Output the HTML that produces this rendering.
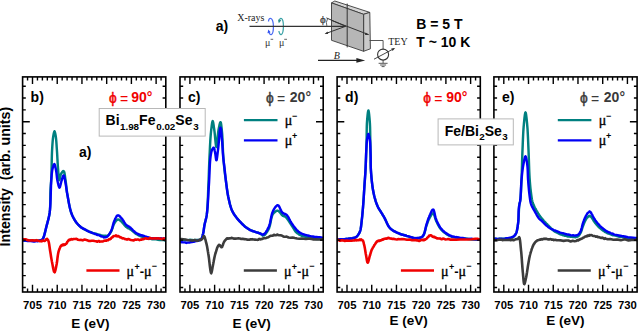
<!DOCTYPE html>
<html><head><meta charset="utf-8"><style>
html,body{margin:0;padding:0;background:#fff;width:638px;height:331px;overflow:hidden}
svg{display:block}
text{font-family:"Liberation Sans",sans-serif;fill:#000}
.tl{font-size:11.3px;font-weight:bold}
.xl{font-size:13.5px;font-weight:bold}
.pl{font-size:14px;font-weight:bold}
.phi{font-size:13.8px}
.eq{font-size:14px}
.mu{font-size:13px}
.sup{font-size:9px;font-weight:bold}
.mg{font-family:"Liberation Serif",serif;font-size:14px;stroke:#000;stroke-width:0.35}
.bx{font-size:14px;font-weight:bold}
.sub{font-size:9.8px}
.yl{font-size:14.2px;font-weight:bold}
.sr{font-family:"Liberation Serif",serif;fill:#222;font-size:10px}
</style></head><body>
<svg width="638" height="331" viewBox="0 0 638 331">
<clipPath id="cp0"><rect x="22.60" y="76.90" width="143.20" height="215.10"/></clipPath>
<clipPath id="cp1"><rect x="180.00" y="76.90" width="143.20" height="215.10"/></clipPath>
<clipPath id="cp2"><rect x="337.10" y="76.90" width="143.20" height="215.10"/></clipPath>
<clipPath id="cp3"><rect x="493.90" y="76.90" width="143.20" height="215.10"/></clipPath>
<g clip-path="url(#cp0)">
<path d="M22.60 240.50 L22.86 240.41 L23.56 240.35 L24.63 240.68 L25.97 240.41 L27.50 240.73 L29.13 240.69 L30.79 240.55 L32.37 240.84 L33.81 240.56 L35.00 240.76 L35.77 240.52 L36.54 240.50 L37.30 240.65 L38.05 240.82 L38.77 240.38 L39.45 240.37 L40.08 240.48 L40.66 240.50 L41.17 240.20 L41.60 239.96 L41.79 240.07 L41.95 239.68 L42.09 239.85 L42.22 239.59 L42.34 239.46 L42.45 239.36 L42.55 239.28 L42.66 239.23 L42.77 238.94 L42.90 238.81 L43.28 238.06 L43.67 237.01 L44.07 235.80 L44.48 234.35 L44.89 232.84 L45.29 231.25 L45.69 229.67 L46.07 228.05 L46.44 226.51 L46.80 225.11 L47.13 223.83 L47.46 222.58 L47.79 221.41 L48.11 220.19 L48.42 218.94 L48.72 217.74 L49.00 216.48 L49.26 215.20 L49.49 213.83 L49.70 212.39 L49.92 210.41 L50.07 208.22 L50.18 205.94 L50.25 203.58 L50.29 201.17 L50.32 198.77 L50.34 196.41 L50.37 194.14 L50.42 191.99 L50.50 190.00 L50.57 188.68 L50.65 187.44 L50.73 186.29 L50.82 185.18 L50.90 184.08 L50.99 182.98 L51.07 181.86 L51.15 180.67 L51.23 179.39 L51.30 178.00 L51.40 175.62 L51.48 173.00 L51.54 170.16 L51.61 167.18 L51.67 164.13 L51.73 161.07 L51.80 158.06 L51.88 155.17 L51.98 152.45 L52.10 150.00 L52.19 148.36 L52.29 146.76 L52.39 145.19 L52.49 143.68 L52.60 142.20 L52.71 140.79 L52.84 139.47 L52.98 138.24 L53.13 137.04 L53.30 136.00 L53.40 135.41 L53.52 134.81 L53.63 134.20 L53.75 133.61 L53.88 133.01 L54.00 132.52 L54.13 132.09 L54.25 131.84 L54.38 131.67 L54.50 131.29 L54.62 131.50 L54.75 131.74 L54.87 132.08 L55.00 132.53 L55.12 133.03 L55.25 133.56 L55.37 134.14 L55.48 134.78 L55.60 135.40 L55.70 136.00 L55.87 137.10 L56.02 138.28 L56.15 139.57 L56.27 140.95 L56.38 142.40 L56.49 143.88 L56.59 145.43 L56.69 146.97 L56.79 148.50 L56.90 150.01 L57.02 151.72 L57.13 153.51 L57.23 155.34 L57.33 157.21 L57.43 159.07 L57.54 160.93 L57.64 162.78 L57.75 164.58 L57.87 166.33 L58.00 167.99 L58.11 169.41 L58.22 170.97 L58.33 172.58 L58.44 174.20 L58.55 175.74 L58.68 177.18 L58.81 178.39 L58.96 179.32 L59.12 179.94 L59.30 180.14 L59.44 180.06 L59.57 179.69 L59.71 179.21 L59.85 178.53 L59.99 177.71 L60.16 176.88 L60.33 176.02 L60.53 175.23 L60.75 174.55 L61.00 173.97 L61.22 173.67 L61.47 173.14 L61.73 172.70 L62.01 172.48 L62.30 172.02 L62.58 171.60 L62.86 171.42 L63.13 171.06 L63.38 171.12 L63.60 171.27 L63.89 171.40 L64.15 171.84 L64.37 172.50 L64.56 173.39 L64.73 174.39 L64.89 175.53 L65.04 176.67 L65.19 177.84 L65.34 178.94 L65.50 179.98 L65.70 181.29 L65.87 182.61 L66.03 183.95 L66.17 185.33 L66.32 186.74 L66.47 188.18 L66.64 189.63 L66.83 191.14 L67.05 192.65 L67.30 194.17 L67.64 196.13 L68.00 198.23 L68.37 200.39 L68.77 202.63 L69.21 204.88 L69.68 207.06 L70.20 209.25 L70.78 211.33 L71.41 213.27 L72.10 214.98 L72.68 216.25 L73.29 217.50 L73.93 218.69 L74.60 219.84 L75.30 221.02 L76.03 222.14 L76.80 223.14 L77.60 224.02 L78.43 224.97 L79.30 225.87 L80.15 226.44 L81.05 227.29 L81.98 228.02 L82.95 228.59 L83.94 229.15 L84.94 229.59 L85.96 229.99 L86.98 230.69 L88.00 230.99 L89.00 231.61 L89.95 232.08 L90.92 232.26 L91.89 232.62 L92.87 233.17 L93.85 233.40 L94.84 233.47 L95.81 233.72 L96.79 233.98 L97.75 234.55 L98.70 234.74 L99.58 234.66 L100.47 235.19 L101.38 235.49 L102.29 235.58 L103.18 235.64 L104.05 235.90 L104.89 235.78 L105.69 235.73 L106.43 236.19 L107.10 235.86 L107.59 235.61 L108.04 235.48 L108.46 235.03 L108.85 234.79 L109.22 234.39 L109.57 233.84 L109.91 233.41 L110.24 232.95 L110.57 232.45 L110.90 232.01 L111.32 231.22 L111.70 230.40 L112.06 229.43 L112.39 228.53 L112.71 227.46 L113.03 226.46 L113.35 225.50 L113.70 224.62 L114.08 223.71 L114.50 223.07 L114.82 222.52 L115.16 222.05 L115.51 221.57 L115.86 221.01 L116.23 220.68 L116.60 220.25 L116.97 219.87 L117.35 219.85 L117.72 219.45 L118.10 219.49 L118.46 219.62 L118.82 219.64 L119.19 219.73 L119.56 220.03 L119.93 220.32 L120.31 220.70 L120.68 220.87 L121.06 221.33 L121.43 221.60 L121.80 221.94 L122.25 222.49 L122.70 222.91 L123.15 223.44 L123.60 224.03 L124.05 224.62 L124.49 225.08 L124.94 225.66 L125.39 226.14 L125.85 226.60 L126.30 227.05 L126.65 227.25 L127.00 227.50 L127.35 227.68 L127.70 228.01 L128.05 228.09 L128.40 228.32 L128.76 228.51 L129.13 228.46 L129.51 228.77 L129.90 229.13 L130.48 229.50 L131.08 229.77 L131.71 230.28 L132.35 230.91 L133.01 231.37 L133.67 231.97 L134.34 232.47 L135.00 233.15 L135.66 233.66 L136.30 234.12 L136.84 234.21 L137.36 234.68 L137.87 234.94 L138.39 235.02 L138.90 235.52 L139.43 235.78 L139.96 235.73 L140.52 236.23 L141.09 236.24 L141.70 236.50 L142.50 236.98 L143.32 237.20 L144.16 237.21 L145.04 237.59 L145.94 237.88 L146.86 238.06 L147.81 238.23 L148.78 238.51 L149.78 238.91 L150.80 238.77 L152.28 239.25 L154.03 239.40 L155.95 239.37 L157.95 239.70 L159.93 240.01 L161.77 240.07 L163.38 239.93 L164.65 240.51 L165.49 240.44 L165.80 240.30" fill="none" stroke="#008080" stroke-width="2.45" stroke-linejoin="round" stroke-linecap="round"/>
<path d="M22.60 240.50 L22.86 240.77 L23.56 240.40 L24.63 240.59 L25.97 240.60 L27.50 241.13 L29.14 240.99 L30.79 241.02 L32.38 241.26 L33.81 241.58 L35.00 241.48 L35.77 241.11 L36.54 240.98 L37.31 241.28 L38.05 241.00 L38.77 240.93 L39.45 240.51 L40.08 240.35 L40.66 240.45 L41.17 240.16 L41.60 239.85 L41.79 240.05 L41.95 239.86 L42.09 239.82 L42.22 239.52 L42.34 239.63 L42.45 239.33 L42.55 239.39 L42.66 239.16 L42.77 238.97 L42.90 238.81 L43.28 238.10 L43.67 237.00 L44.07 235.76 L44.48 234.40 L44.89 232.85 L45.29 231.25 L45.69 229.63 L46.07 228.02 L46.44 226.50 L46.80 225.08 L47.13 223.82 L47.46 222.66 L47.78 221.43 L48.09 220.28 L48.39 219.08 L48.68 217.89 L48.96 216.61 L49.23 215.31 L49.47 213.89 L49.70 212.41 L50.00 209.70 L50.24 206.61 L50.43 203.25 L50.57 199.71 L50.69 196.07 L50.79 192.46 L50.89 188.94 L51.00 185.63 L51.13 182.62 L51.30 180.00 L51.40 178.64 L51.50 177.36 L51.59 176.14 L51.68 174.95 L51.78 173.85 L51.89 172.79 L52.01 171.78 L52.15 170.80 L52.31 169.87 L52.50 168.96 L52.65 168.36 L52.81 167.71 L52.99 167.12 L53.17 166.43 L53.36 165.82 L53.56 165.26 L53.75 164.91 L53.94 164.57 L54.13 164.32 L54.30 164.08 L54.48 164.25 L54.67 164.56 L54.85 165.03 L55.02 165.57 L55.20 166.26 L55.37 166.97 L55.54 167.79 L55.70 168.56 L55.85 169.29 L56.00 169.98 L56.18 171.00 L56.34 172.01 L56.48 173.12 L56.61 174.26 L56.73 175.46 L56.86 176.64 L56.99 177.81 L57.14 178.92 L57.31 180.01 L57.50 180.96 L57.67 181.77 L57.85 182.60 L58.05 183.49 L58.25 184.32 L58.45 185.14 L58.67 185.91 L58.88 186.53 L59.09 187.07 L59.30 187.39 L59.50 187.64 L59.70 187.41 L59.90 187.05 L60.09 186.53 L60.29 185.80 L60.48 185.01 L60.68 184.22 L60.88 183.29 L61.08 182.49 L61.29 181.70 L61.50 180.95 L61.70 180.40 L61.91 179.71 L62.13 178.94 L62.34 178.20 L62.56 177.49 L62.78 176.75 L62.99 176.23 L63.20 175.78 L63.41 175.58 L63.60 175.55 L63.81 175.61 L64.02 175.95 L64.22 176.57 L64.42 177.30 L64.61 178.18 L64.79 179.11 L64.97 180.11 L65.15 181.12 L65.33 182.10 L65.50 182.97 L65.70 184.04 L65.87 185.05 L66.03 186.10 L66.19 187.16 L66.34 188.26 L66.50 189.37 L66.67 190.50 L66.86 191.73 L67.06 192.95 L67.30 194.20 L67.65 196.06 L68.01 198.09 L68.38 200.20 L68.79 202.46 L69.22 204.68 L69.69 206.91 L70.21 209.12 L70.78 211.26 L71.41 213.17 L72.10 215.03 L72.68 216.36 L73.29 217.54 L73.93 218.72 L74.60 219.89 L75.30 221.03 L76.03 222.11 L76.80 223.09 L77.60 224.06 L78.43 224.84 L79.30 225.71 L80.15 226.48 L81.05 227.31 L81.98 227.82 L82.95 228.49 L83.94 228.87 L84.95 229.41 L85.97 229.98 L86.99 230.61 L88.00 231.09 L89.00 231.56 L89.96 231.87 L90.94 232.38 L91.92 232.77 L92.91 233.16 L93.90 233.40 L94.89 234.06 L95.87 234.13 L96.83 234.77 L97.78 235.07 L98.70 235.01 L99.48 235.46 L100.26 235.91 L101.03 236.30 L101.80 236.43 L102.56 236.67 L103.30 236.90 L104.02 237.41 L104.71 237.16 L105.37 237.37 L106.00 237.05 L106.60 236.95 L107.17 236.70 L107.71 236.01 L108.22 235.61 L108.71 234.92 L109.18 234.31 L109.64 233.55 L110.07 232.74 L110.49 232.10 L110.90 231.30 L111.36 230.29 L111.77 229.25 L112.14 228.19 L112.48 227.01 L112.80 225.80 L113.11 224.60 L113.42 223.45 L113.75 222.34 L114.11 221.37 L114.50 220.33 L114.80 219.79 L115.11 219.13 L115.41 218.36 L115.73 217.82 L116.05 217.17 L116.38 216.65 L116.71 216.05 L117.06 215.67 L117.42 215.40 L117.80 215.54 L118.16 215.35 L118.55 215.39 L118.94 215.65 L119.35 215.93 L119.76 216.25 L120.18 216.70 L120.59 217.32 L121.00 217.66 L121.41 218.27 L121.80 218.54 L122.27 219.10 L122.72 219.76 L123.17 220.36 L123.61 221.09 L124.05 221.90 L124.49 222.58 L124.94 223.25 L125.38 223.85 L125.84 224.49 L126.30 225.01 L126.65 225.23 L126.99 225.55 L127.34 225.58 L127.69 226.01 L128.04 226.12 L128.39 226.42 L128.76 226.58 L129.13 226.70 L129.51 226.88 L129.90 227.42 L130.48 227.68 L131.08 228.33 L131.70 228.90 L132.34 229.53 L132.99 230.30 L133.65 231.01 L134.32 231.46 L134.98 232.16 L135.65 232.59 L136.30 233.12 L136.83 233.38 L137.35 233.58 L137.86 233.81 L138.38 234.04 L138.90 234.51 L139.42 234.54 L139.96 234.61 L140.52 235.06 L141.10 235.29 L141.70 235.28 L142.51 235.44 L143.35 235.76 L144.22 236.02 L145.11 236.43 L146.03 236.63 L146.97 236.97 L147.92 237.25 L148.88 237.63 L149.84 238.00 L150.80 238.12 L151.86 238.11 L152.97 238.21 L154.12 238.34 L155.28 238.31 L156.44 238.31 L157.59 238.16 L158.69 238.30 L159.74 238.71 L160.72 238.25 L161.60 238.50 L162.14 238.60 L162.70 238.77 L163.27 238.46 L163.82 238.53 L164.34 238.55 L164.82 238.67 L165.22 238.73 L165.53 239.02 L165.73 238.98 L165.80 238.80" fill="none" stroke="#0000f5" stroke-width="2.45" stroke-linejoin="round" stroke-linecap="round"/>
<path d="M22.60 239.50 L22.98 239.90 L24.03 239.17 L25.60 239.32 L27.56 240.15 L29.79 240.53 L32.13 240.30 L34.46 240.59 L36.64 240.15 L38.53 240.64 L40.00 241.25 L40.63 241.16 L41.23 241.20 L41.80 241.34 L42.34 240.56 L42.85 240.41 L43.33 240.46 L43.78 240.79 L44.21 240.87 L44.62 240.97 L45.00 240.66 L45.25 240.46 L45.49 240.35 L45.71 240.00 L45.92 239.83 L46.12 239.40 L46.30 239.52 L46.48 239.09 L46.66 239.33 L46.83 239.13 L47.00 238.82 L47.16 238.81 L47.32 239.02 L47.47 239.35 L47.62 239.54 L47.76 239.54 L47.90 239.78 L48.03 240.16 L48.15 240.45 L48.28 240.68 L48.40 240.94 L48.62 241.64 L48.81 242.27 L48.98 243.14 L49.14 244.05 L49.28 245.04 L49.42 245.99 L49.56 247.03 L49.70 248.01 L49.84 248.99 L50.00 249.97 L50.19 251.18 L50.38 252.33 L50.57 253.49 L50.75 254.68 L50.94 255.96 L51.14 257.21 L51.34 258.41 L51.55 259.61 L51.77 260.86 L52.00 262.05 L52.23 263.11 L52.46 264.37 L52.71 265.75 L52.96 267.11 L53.22 268.45 L53.48 269.58 L53.74 270.71 L54.00 271.53 L54.25 272.01 L54.50 271.94 L54.71 272.26 L54.91 271.67 L55.12 271.24 L55.33 270.42 L55.53 269.60 L55.74 268.77 L55.93 267.75 L56.13 266.87 L56.32 265.87 L56.50 264.96 L56.72 263.80 L56.92 262.56 L57.10 261.24 L57.27 259.87 L57.44 258.39 L57.62 257.00 L57.80 255.61 L58.00 254.38 L58.24 253.06 L58.50 251.93 L58.70 251.19 L58.92 250.53 L59.14 249.92 L59.37 249.24 L59.60 248.55 L59.85 248.01 L60.10 247.44 L60.36 246.76 L60.63 246.26 L60.90 246.16 L61.05 245.94 L61.19 245.47 L61.34 245.66 L61.49 245.40 L61.64 245.30 L61.80 245.19 L61.96 245.01 L62.13 244.82 L62.31 244.93 L62.50 244.89 L62.78 245.26 L63.09 244.51 L63.43 245.20 L63.78 244.47 L64.14 244.56 L64.50 244.93 L64.86 244.84 L65.20 244.44 L65.51 244.07 L65.80 244.19 L66.07 243.91 L66.32 243.85 L66.54 243.27 L66.75 242.98 L66.95 242.77 L67.14 242.15 L67.34 241.90 L67.54 241.68 L67.76 241.37 L68.00 240.81 L68.20 240.59 L68.40 240.42 L68.58 240.63 L68.78 240.15 L68.98 240.25 L69.19 240.20 L69.42 239.74 L69.68 239.56 L69.97 239.93 L70.30 239.60 L71.20 239.11 L72.30 239.47 L73.57 239.03 L74.98 239.05 L76.48 238.87 L78.04 239.74 L79.63 240.03 L81.21 239.90 L82.74 240.33 L84.20 239.53 L85.66 239.85 L87.14 240.23 L88.65 240.85 L90.16 241.03 L91.67 240.68 L93.16 240.72 L94.62 241.03 L96.04 241.21 L97.40 241.73 L98.70 240.95 L99.67 241.60 L100.63 241.49 L101.57 241.51 L102.50 241.39 L103.40 241.13 L104.26 240.77 L105.09 240.64 L105.88 240.54 L106.62 240.71 L107.30 239.98 L107.73 239.94 L108.12 240.18 L108.49 239.68 L108.84 239.41 L109.17 239.22 L109.49 239.34 L109.81 239.02 L110.13 239.19 L110.46 238.93 L110.80 238.77 L111.17 238.12 L111.54 237.75 L111.90 237.45 L112.27 237.31 L112.63 237.08 L113.00 236.64 L113.37 236.24 L113.74 236.08 L114.12 236.01 L114.50 235.94 L114.85 235.96 L115.19 236.07 L115.54 235.88 L115.89 235.41 L116.24 236.10 L116.60 235.72 L116.97 236.04 L117.34 235.99 L117.71 236.38 L118.10 236.07 L118.60 236.27 L119.09 236.47 L119.60 236.63 L120.10 237.35 L120.63 237.40 L121.17 237.49 L121.73 237.79 L122.32 238.44 L122.94 238.32 L123.60 238.29 L124.65 239.00 L125.81 239.12 L127.04 239.64 L128.33 239.05 L129.67 239.57 L131.03 240.05 L132.39 240.20 L133.74 240.37 L135.05 239.50 L136.30 239.78 L137.41 239.57 L138.49 239.55 L139.55 240.09 L140.61 239.55 L141.65 239.62 L142.70 238.93 L143.77 239.15 L144.85 238.60 L145.96 238.27 L147.10 238.68 L148.50 238.83 L150.00 237.92 L151.56 238.48 L153.16 238.56 L154.76 238.23 L156.32 238.48 L157.82 238.34 L159.22 238.49 L160.49 238.60 L161.60 239.00 L162.16 239.08 L162.74 238.62 L163.31 238.43 L163.86 238.77 L164.38 239.16 L164.84 238.64 L165.23 238.79 L165.54 238.68 L165.73 239.31 L165.80 239.00" fill="none" stroke="#f00000" stroke-width="2.60" stroke-linejoin="round" stroke-linecap="round"/>
</g>
<g clip-path="url(#cp1)">
<path d="M180.00 240.00 L180.32 240.03 L181.20 239.76 L182.52 239.80 L184.18 239.99 L186.07 240.09 L188.07 240.15 L190.07 239.83 L191.97 239.86 L193.65 240.15 L195.00 239.95 L195.71 239.86 L196.39 239.89 L197.05 240.29 L197.69 239.96 L198.30 240.12 L198.87 239.99 L199.41 239.98 L199.91 240.08 L200.38 239.93 L200.80 239.46 L201.17 239.09 L201.49 238.79 L201.76 238.22 L201.99 237.68 L202.18 237.20 L202.36 236.55 L202.52 235.95 L202.68 235.27 L202.83 234.67 L203.00 234.00 L203.20 233.17 L203.38 232.33 L203.53 231.50 L203.67 230.61 L203.80 229.71 L203.92 228.75 L204.05 227.83 L204.18 226.88 L204.33 225.94 L204.50 224.98 L204.71 223.98 L204.93 223.02 L205.17 222.09 L205.42 221.05 L205.67 220.09 L205.92 219.10 L206.16 218.04 L206.39 216.86 L206.61 215.66 L206.80 214.42 L207.07 212.08 L207.30 209.46 L207.50 206.64 L207.66 203.68 L207.80 200.58 L207.93 197.43 L208.04 194.24 L208.15 191.08 L208.27 187.97 L208.40 185.00 L208.53 182.16 L208.64 179.33 L208.75 176.51 L208.85 173.68 L208.95 170.85 L209.05 168.05 L209.15 165.26 L209.26 162.49 L209.37 159.73 L209.50 156.99 L209.63 154.39 L209.75 151.74 L209.88 149.07 L210.00 146.38 L210.14 143.75 L210.28 141.18 L210.44 138.67 L210.61 136.31 L210.79 134.05 L211.00 132.00 L211.15 130.65 L211.30 129.23 L211.47 127.77 L211.64 126.36 L211.81 125.03 L211.99 123.82 L212.17 122.81 L212.35 122.00 L212.52 121.48 L212.70 121.05 L212.86 121.47 L213.02 121.88 L213.18 122.52 L213.34 123.40 L213.50 124.39 L213.66 125.47 L213.82 126.61 L213.98 127.79 L214.14 128.91 L214.30 129.98 L214.52 131.62 L214.73 133.56 L214.94 135.75 L215.15 138.02 L215.36 140.25 L215.57 142.38 L215.77 144.20 L215.98 145.70 L216.19 146.68 L216.40 147.01 L216.61 146.60 L216.80 145.67 L217.00 144.18 L217.19 142.34 L217.39 140.20 L217.59 137.96 L217.80 135.70 L218.02 133.53 L218.25 131.60 L218.50 129.98 L218.68 129.05 L218.88 127.99 L219.09 126.96 L219.30 125.93 L219.51 124.89 L219.72 124.06 L219.93 123.33 L220.13 122.64 L220.32 122.30 L220.50 122.33 L220.68 122.32 L220.86 122.89 L221.02 123.57 L221.18 124.54 L221.33 125.61 L221.48 126.85 L221.62 128.16 L221.75 129.45 L221.88 130.75 L222.00 132.00 L222.17 133.92 L222.32 136.04 L222.44 138.33 L222.55 140.73 L222.65 143.21 L222.75 145.69 L222.85 148.16 L222.95 150.55 L223.07 152.86 L223.20 154.99 L223.32 156.64 L223.44 158.26 L223.56 159.83 L223.68 161.39 L223.81 162.89 L223.94 164.38 L224.08 165.84 L224.21 167.23 L224.36 168.66 L224.50 170.01 L224.62 171.07 L224.74 172.10 L224.86 173.05 L224.98 174.03 L225.10 174.95 L225.23 175.88 L225.36 176.86 L225.50 177.84 L225.64 178.88 L225.80 180.01 L226.02 181.58 L226.24 183.32 L226.47 185.09 L226.70 186.96 L226.95 188.87 L227.22 190.75 L227.51 192.64 L227.81 194.48 L228.14 196.25 L228.50 197.96 L228.83 199.44 L229.15 200.93 L229.47 202.34 L229.81 203.76 L230.18 205.18 L230.57 206.47 L231.00 207.82 L231.47 209.18 L232.01 210.38 L232.60 211.62 L233.25 212.87 L233.96 214.00 L234.72 215.20 L235.53 216.30 L236.38 217.48 L237.25 218.56 L238.13 219.52 L239.03 220.62 L239.92 221.56 L240.80 222.41 L241.57 223.40 L242.33 224.01 L243.10 224.73 L243.87 225.44 L244.66 226.27 L245.46 227.01 L246.28 227.63 L247.12 228.13 L248.00 228.67 L248.90 229.14 L249.92 229.89 L251.02 230.35 L252.18 230.73 L253.37 231.26 L254.57 231.57 L255.75 232.14 L256.89 232.42 L257.96 232.58 L258.94 233.19 L259.80 233.24 L260.26 233.66 L260.68 233.90 L261.07 234.16 L261.44 234.41 L261.79 234.90 L262.12 234.94 L262.46 235.31 L262.79 235.62 L263.14 235.33 L263.50 235.37 L264.03 235.35 L264.57 234.97 L265.11 234.51 L265.66 233.94 L266.21 233.11 L266.74 232.36 L267.27 231.54 L267.77 230.64 L268.25 229.91 L268.70 229.04 L269.24 227.76 L269.70 226.21 L270.09 224.67 L270.44 222.95 L270.78 221.19 L271.12 219.50 L271.49 217.84 L271.91 216.32 L272.41 214.99 L273.00 213.95 L273.42 213.36 L273.86 212.90 L274.33 212.51 L274.82 212.05 L275.32 211.70 L275.83 211.33 L276.34 210.92 L276.84 210.83 L277.33 210.67 L277.80 210.84 L278.29 210.85 L278.78 211.09 L279.26 211.64 L279.73 212.25 L280.20 212.70 L280.67 213.47 L281.13 213.92 L281.59 214.55 L282.05 215.05 L282.50 215.57 L282.83 215.85 L283.15 215.95 L283.46 215.92 L283.78 216.25 L284.09 216.12 L284.41 216.19 L284.73 216.56 L285.05 216.60 L285.37 216.81 L285.70 217.04 L286.30 217.69 L286.91 218.29 L287.54 219.20 L288.18 220.10 L288.83 221.12 L289.47 222.07 L290.12 223.16 L290.76 224.15 L291.39 225.07 L292.00 225.95 L292.53 226.80 L293.01 227.49 L293.48 228.42 L293.93 229.07 L294.39 229.81 L294.87 230.57 L295.39 231.45 L295.95 232.02 L296.59 232.61 L297.30 233.17 L298.29 233.83 L299.39 234.66 L300.59 235.22 L301.85 235.77 L303.18 236.27 L304.54 236.43 L305.92 237.05 L307.31 237.31 L308.67 237.84 L310.00 238.15 L311.42 238.45 L313.04 238.24 L314.77 238.83 L316.54 238.99 L318.26 239.10 L319.86 238.70 L321.24 238.79 L322.33 238.76 L323.04 238.72 L323.30 239.00" fill="none" stroke="#008080" stroke-width="2.45" stroke-linejoin="round" stroke-linecap="round"/>
<path d="M180.00 241.70 L180.13 241.89 L180.51 241.96 L181.08 242.01 L181.81 242.26 L182.65 242.34 L183.58 242.35 L184.55 242.40 L185.52 242.51 L186.45 242.93 L187.30 242.63 L188.33 242.64 L189.44 242.55 L190.62 242.17 L191.82 242.04 L193.03 241.78 L194.21 241.67 L195.33 241.23 L196.37 240.92 L197.31 240.92 L198.10 240.50 L198.45 240.56 L198.78 240.38 L199.08 240.05 L199.36 240.16 L199.63 240.11 L199.88 240.17 L200.12 239.91 L200.35 239.91 L200.58 239.70 L200.80 239.43 L201.10 239.22 L201.38 238.66 L201.63 238.30 L201.86 237.68 L202.08 237.09 L202.28 236.51 L202.47 235.94 L202.65 235.32 L202.82 234.59 L203.00 234.00 L203.20 233.20 L203.38 232.39 L203.53 231.48 L203.67 230.61 L203.80 229.69 L203.92 228.78 L204.05 227.81 L204.18 226.91 L204.33 225.93 L204.50 224.98 L204.71 224.01 L204.93 223.02 L205.16 222.02 L205.41 221.09 L205.66 220.06 L205.90 219.10 L206.15 218.02 L206.38 216.90 L206.60 215.69 L206.80 214.39 L207.10 212.05 L207.36 209.46 L207.60 206.66 L207.81 203.66 L208.01 200.59 L208.19 197.41 L208.37 194.23 L208.54 191.07 L208.72 187.99 L208.90 185.00 L209.07 182.09 L209.22 179.06 L209.36 175.95 L209.48 172.85 L209.61 169.78 L209.75 166.82 L209.90 164.00 L210.07 161.39 L210.27 159.03 L210.50 156.99 L210.62 156.07 L210.75 155.25 L210.87 154.43 L211.00 153.67 L211.13 152.92 L211.27 152.27 L211.43 151.67 L211.60 151.07 L211.79 150.47 L212.00 149.99 L212.15 149.74 L212.31 149.31 L212.49 148.98 L212.67 148.68 L212.85 148.47 L213.03 148.25 L213.21 147.88 L213.39 147.71 L213.55 147.62 L213.70 147.63 L213.87 147.81 L214.02 147.97 L214.17 148.34 L214.30 148.74 L214.42 149.30 L214.54 149.81 L214.66 150.32 L214.77 150.95 L214.88 151.44 L215.00 151.99 L215.16 152.82 L215.31 153.76 L215.45 154.82 L215.59 155.91 L215.73 157.00 L215.86 158.05 L215.99 158.92 L216.12 159.64 L216.26 160.12 L216.40 160.03 L216.56 160.11 L216.72 159.65 L216.87 158.86 L217.03 157.85 L217.19 156.69 L217.35 155.39 L217.51 154.02 L217.67 152.65 L217.84 151.28 L218.00 150.01 L218.25 147.92 L218.50 145.35 L218.75 142.51 L219.01 139.52 L219.27 136.54 L219.53 133.74 L219.79 131.31 L220.03 129.37 L220.27 128.09 L220.50 127.66 L220.66 127.87 L220.83 128.47 L220.99 129.44 L221.14 130.67 L221.30 132.11 L221.45 133.71 L221.59 135.33 L221.73 136.99 L221.87 138.57 L222.00 140.01 L222.14 141.63 L222.27 143.32 L222.39 145.08 L222.50 146.87 L222.61 148.68 L222.71 150.47 L222.82 152.25 L222.94 153.98 L223.06 155.62 L223.20 157.21 L223.32 158.38 L223.44 159.48 L223.56 160.55 L223.69 161.61 L223.82 162.59 L223.95 163.63 L224.09 164.65 L224.22 165.74 L224.36 166.85 L224.50 168.00 L224.68 169.52 L224.85 171.16 L225.03 172.83 L225.21 174.56 L225.40 176.30 L225.59 178.06 L225.78 179.81 L225.98 181.51 L226.19 183.18 L226.40 184.82 L226.59 186.17 L226.77 187.55 L226.94 188.87 L227.12 190.21 L227.31 191.48 L227.51 192.82 L227.72 194.08 L227.96 195.35 L228.21 196.67 L228.50 197.99 L228.81 199.34 L229.12 200.77 L229.45 202.18 L229.79 203.62 L230.15 205.00 L230.55 206.38 L230.99 207.75 L231.47 209.16 L232.00 210.50 L232.60 211.70 L233.25 212.85 L233.96 214.13 L234.72 215.21 L235.53 216.30 L236.38 217.39 L237.25 218.60 L238.13 219.65 L239.03 220.62 L239.92 221.56 L240.80 222.51 L241.57 223.23 L242.33 224.18 L243.10 224.78 L243.87 225.58 L244.66 226.32 L245.46 226.99 L246.28 227.54 L247.12 228.10 L248.00 228.76 L248.90 229.18 L249.92 229.96 L251.01 230.31 L252.17 230.98 L253.35 231.22 L254.55 231.68 L255.73 232.03 L256.87 232.46 L257.94 232.69 L258.93 232.92 L259.80 233.49 L260.25 233.48 L260.66 233.64 L261.05 233.85 L261.43 234.08 L261.78 234.22 L262.13 234.43 L262.47 234.54 L262.81 234.43 L263.15 234.70 L263.50 234.53 L264.05 233.98 L264.60 233.75 L265.16 233.18 L265.70 232.45 L266.24 231.54 L266.77 230.80 L267.28 229.86 L267.78 228.82 L268.25 227.87 L268.70 227.06 L269.24 225.66 L269.71 224.09 L270.12 222.43 L270.49 220.69 L270.84 218.92 L271.19 217.19 L271.57 215.44 L271.98 213.81 L272.45 212.42 L273.00 211.14 L273.42 210.24 L273.87 209.53 L274.34 208.67 L274.83 207.91 L275.33 207.16 L275.84 206.56 L276.34 206.01 L276.84 205.62 L277.33 205.15 L277.80 205.30 L278.29 205.40 L278.75 205.92 L279.21 206.57 L279.66 207.50 L280.11 208.43 L280.56 209.41 L281.02 210.41 L281.49 211.33 L281.98 212.19 L282.50 212.70 L282.90 213.11 L283.31 213.25 L283.73 213.57 L284.16 213.74 L284.59 213.90 L285.02 214.18 L285.46 214.03 L285.88 214.52 L286.30 214.66 L286.70 215.02 L287.26 215.65 L287.80 216.41 L288.31 217.15 L288.81 218.06 L289.31 219.10 L289.81 219.95 L290.32 221.02 L290.85 222.00 L291.40 222.83 L292.00 223.82 L292.65 224.74 L293.31 225.71 L293.98 226.52 L294.67 227.58 L295.38 228.39 L296.12 229.27 L296.88 230.21 L297.68 230.80 L298.52 231.70 L299.40 232.34 L300.32 232.83 L301.29 233.52 L302.30 233.81 L303.34 234.26 L304.40 234.65 L305.50 235.09 L306.61 235.15 L307.73 235.54 L308.86 235.80 L310.00 236.12 L311.38 236.53 L312.97 236.52 L314.69 237.01 L316.46 236.99 L318.19 237.21 L319.80 237.23 L321.20 237.46 L322.31 237.79 L323.04 237.67 L323.30 237.60" fill="none" stroke="#0000f5" stroke-width="2.45" stroke-linejoin="round" stroke-linecap="round"/>
<path d="M180.00 239.10 L180.41 239.42 L181.52 239.13 L183.20 239.31 L185.29 239.52 L187.63 240.03 L190.09 240.30 L192.52 240.63 L194.76 239.98 L196.67 240.73 L198.10 240.78 L198.62 240.36 L199.11 239.85 L199.56 239.97 L199.97 239.64 L200.36 239.67 L200.72 240.03 L201.07 239.66 L201.39 239.51 L201.70 239.38 L202.00 239.20 L202.25 238.80 L202.48 238.47 L202.69 238.11 L202.88 237.75 L203.06 237.34 L203.23 237.00 L203.39 236.55 L203.56 236.46 L203.73 236.22 L203.90 236.41 L204.16 236.17 L204.42 236.61 L204.67 237.13 L204.92 237.97 L205.17 238.78 L205.41 239.59 L205.64 240.45 L205.87 241.43 L206.09 242.31 L206.30 243.11 L206.56 244.10 L206.80 245.20 L207.03 246.33 L207.25 247.47 L207.46 248.67 L207.67 249.91 L207.87 251.19 L208.08 252.36 L208.28 253.70 L208.50 254.95 L208.77 256.77 L209.04 258.96 L209.31 261.26 L209.58 263.68 L209.85 266.00 L210.12 268.15 L210.39 270.10 L210.66 271.64 L210.93 272.73 L211.20 273.30 L211.38 272.85 L211.56 272.43 L211.74 271.76 L211.91 271.04 L212.09 270.05 L212.27 269.03 L212.45 267.95 L212.63 266.88 L212.81 265.95 L213.00 264.95 L213.21 264.03 L213.42 262.84 L213.62 261.83 L213.82 260.62 L214.03 259.47 L214.24 258.41 L214.48 257.22 L214.73 256.18 L215.00 255.00 L215.30 253.92 L215.60 253.03 L215.93 251.91 L216.27 250.78 L216.62 249.60 L216.99 248.35 L217.37 247.44 L217.76 246.56 L218.17 245.76 L218.58 245.46 L219.00 244.83 L219.26 245.37 L219.53 245.27 L219.81 245.17 L220.09 245.50 L220.38 246.10 L220.66 246.51 L220.94 246.51 L221.20 246.84 L221.46 247.25 L221.70 246.84 L221.98 247.10 L222.22 246.61 L222.45 246.06 L222.66 245.59 L222.86 245.02 L223.06 244.35 L223.26 243.74 L223.49 242.99 L223.73 242.57 L224.00 241.96 L224.26 241.65 L224.50 241.25 L224.75 240.79 L225.01 240.39 L225.28 240.18 L225.57 239.91 L225.89 239.53 L226.25 239.13 L226.65 238.71 L227.10 238.30 L227.98 238.69 L229.02 238.32 L230.18 238.39 L231.45 237.87 L232.79 238.21 L234.19 238.67 L235.61 238.63 L237.04 238.53 L238.44 238.34 L239.80 238.53 L241.28 239.07 L242.81 238.68 L244.36 239.13 L245.94 239.22 L247.52 239.67 L249.09 239.75 L250.64 239.38 L252.15 239.17 L253.61 239.47 L255.00 239.62 L256.09 239.72 L257.13 239.83 L258.15 239.75 L259.14 238.85 L260.11 239.36 L261.08 239.14 L262.04 238.98 L263.01 238.52 L263.99 238.05 L265.00 238.28 L266.09 237.95 L267.19 237.50 L268.30 237.26 L269.42 236.45 L270.53 235.85 L271.65 235.79 L272.77 235.62 L273.88 234.86 L274.99 235.13 L276.10 235.25 L277.15 234.54 L278.17 235.01 L279.17 235.25 L280.17 235.31 L281.17 235.39 L282.20 235.73 L283.25 236.42 L284.34 236.75 L285.49 236.75 L286.70 236.63 L288.54 237.54 L290.52 237.76 L292.62 237.48 L294.81 238.03 L297.05 238.54 L299.31 238.73 L301.55 238.55 L303.76 238.68 L305.88 238.95 L307.90 238.69 L309.68 238.80 L311.63 238.90 L313.67 239.53 L315.71 239.27 L317.67 239.56 L319.47 239.46 L321.01 239.64 L322.23 239.30 L323.02 239.21 L323.30 239.70" fill="none" stroke="#3c3c3c" stroke-width="2.60" stroke-linejoin="round" stroke-linecap="round"/>
</g>
<g clip-path="url(#cp2)">
<path d="M337.10 239.60 L337.33 239.87 L337.97 239.49 L338.93 239.30 L340.15 239.54 L341.54 239.55 L343.03 239.11 L344.55 239.25 L346.02 238.99 L347.36 238.95 L348.50 238.56 L349.33 238.45 L350.15 238.82 L350.97 238.64 L351.77 238.33 L352.55 238.24 L353.30 237.95 L354.02 237.99 L354.70 237.63 L355.33 237.56 L355.90 237.19 L356.32 236.91 L356.70 236.63 L357.06 236.12 L357.39 235.72 L357.70 235.38 L357.99 235.00 L358.27 234.59 L358.52 234.19 L358.77 233.89 L359.00 233.56 L359.19 233.16 L359.37 232.92 L359.53 232.59 L359.67 232.16 L359.81 231.90 L359.93 231.54 L360.05 231.16 L360.17 230.88 L360.28 230.41 L360.40 230.01 L360.59 229.23 L360.76 228.40 L360.91 227.45 L361.05 226.46 L361.19 225.44 L361.31 224.36 L361.43 223.31 L361.56 222.21 L361.68 221.08 L361.80 219.98 L361.95 218.70 L362.09 217.39 L362.22 216.08 L362.35 214.72 L362.48 213.34 L362.61 211.90 L362.73 210.49 L362.86 209.03 L362.98 207.53 L363.10 206.01 L363.25 204.04 L363.40 202.01 L363.54 199.91 L363.69 197.75 L363.83 195.55 L363.97 193.35 L364.10 191.18 L364.24 189.05 L364.37 186.97 L364.50 185.00 L364.61 183.40 L364.72 181.86 L364.82 180.38 L364.93 178.91 L365.03 177.47 L365.13 176.03 L365.23 174.58 L365.32 173.09 L365.41 171.58 L365.50 169.99 L365.60 168.08 L365.69 166.08 L365.78 163.99 L365.87 161.89 L365.95 159.76 L366.03 157.65 L366.10 155.58 L366.17 153.61 L366.24 151.73 L366.30 150.01 L366.34 148.88 L366.37 147.83 L366.41 146.84 L366.44 145.89 L366.46 144.97 L366.49 144.05 L366.52 143.11 L366.54 142.13 L366.57 141.10 L366.60 140.00 L366.63 138.40 L366.66 136.67 L366.67 134.85 L366.69 132.98 L366.71 131.07 L366.73 129.15 L366.77 127.26 L366.82 125.42 L366.90 123.66 L367.00 122.00 L367.10 120.64 L367.22 119.19 L367.35 117.66 L367.49 116.17 L367.64 114.69 L367.79 113.41 L367.95 112.24 L368.10 111.41 L368.26 110.83 L368.40 110.43 L368.54 110.80 L368.69 111.36 L368.85 112.25 L369.00 113.38 L369.16 114.70 L369.30 116.17 L369.45 117.68 L369.58 119.20 L369.70 120.64 L369.80 121.99 L369.91 123.65 L369.99 125.35 L370.06 127.15 L370.11 128.98 L370.15 130.85 L370.18 132.72 L370.21 134.59 L370.23 136.44 L370.26 138.25 L370.30 140.00 L370.34 141.56 L370.37 143.09 L370.40 144.60 L370.43 146.10 L370.46 147.59 L370.49 149.06 L370.51 150.54 L370.54 152.02 L370.57 153.50 L370.60 155.00 L370.62 156.50 L370.64 157.98 L370.65 159.46 L370.66 160.94 L370.67 162.42 L370.69 163.90 L370.72 165.40 L370.76 166.91 L370.82 168.45 L370.90 170.00 L371.01 171.77 L371.14 173.59 L371.29 175.44 L371.45 177.33 L371.63 179.24 L371.82 181.11 L372.03 182.95 L372.24 184.70 L372.47 186.43 L372.70 187.99 L372.88 189.15 L373.06 190.23 L373.25 191.26 L373.45 192.24 L373.65 193.29 L373.86 194.23 L374.08 195.21 L374.31 196.10 L374.55 197.03 L374.80 198.03 L375.04 198.84 L375.27 199.66 L375.51 200.50 L375.75 201.33 L376.01 202.06 L376.28 202.92 L376.57 203.71 L376.88 204.53 L377.22 205.31 L377.60 206.23 L378.11 207.29 L378.67 208.35 L379.28 209.32 L379.93 210.46 L380.61 211.49 L381.30 212.64 L381.99 213.62 L382.68 214.86 L383.35 215.97 L384.00 217.00 L384.62 218.16 L385.20 219.37 L385.77 220.61 L386.33 221.78 L386.89 223.15 L387.47 224.26 L388.09 225.41 L388.76 226.50 L389.49 227.53 L390.30 228.58 L391.13 229.13 L392.04 229.84 L393.01 230.66 L394.02 231.10 L395.06 231.58 L396.10 232.28 L397.14 232.74 L398.15 233.14 L399.11 233.61 L400.00 233.75 L400.60 234.28 L401.17 234.43 L401.71 234.33 L402.24 234.50 L402.76 234.80 L403.29 234.93 L403.83 234.96 L404.39 235.02 L404.97 235.29 L405.60 235.35 L406.53 235.81 L407.53 236.24 L408.59 236.30 L409.69 236.83 L410.81 237.26 L411.93 237.34 L413.04 237.92 L414.11 238.21 L415.14 238.09 L416.10 238.15 L416.82 238.39 L417.53 238.18 L418.22 238.06 L418.91 238.25 L419.57 238.04 L420.22 237.69 L420.84 237.44 L421.42 237.21 L421.98 236.90 L422.50 236.62 L423.13 235.82 L423.69 234.89 L424.17 233.76 L424.60 232.54 L424.98 231.16 L425.33 229.87 L425.67 228.58 L426.00 227.30 L426.34 226.04 L426.70 224.99 L426.97 224.28 L427.23 223.55 L427.47 222.88 L427.71 222.16 L427.94 221.56 L428.18 220.93 L428.43 220.25 L428.70 219.65 L428.99 219.17 L429.30 218.54 L429.63 217.96 L429.99 217.24 L430.38 216.56 L430.78 215.87 L431.18 215.20 L431.59 214.43 L431.99 214.03 L432.38 213.54 L432.75 213.43 L433.10 213.19 L433.46 213.49 L433.78 213.98 L434.08 214.55 L434.36 215.30 L434.63 216.23 L434.91 217.20 L435.20 218.26 L435.50 219.19 L435.83 220.13 L436.20 221.02 L436.64 221.84 L437.09 222.84 L437.55 223.83 L438.03 224.72 L438.53 225.63 L439.06 226.59 L439.61 227.51 L440.20 228.32 L440.83 229.14 L441.50 229.92 L442.22 230.69 L442.98 231.43 L443.79 232.09 L444.63 232.73 L445.50 233.31 L446.39 234.04 L447.29 234.69 L448.20 235.14 L449.11 235.60 L450.00 236.05 L450.80 236.22 L451.57 236.70 L452.34 236.84 L453.12 237.09 L453.90 237.29 L454.71 237.39 L455.56 237.46 L456.45 237.56 L457.39 237.70 L458.40 238.01 L460.36 238.22 L462.81 238.60 L465.58 238.58 L468.51 239.02 L471.43 239.53 L474.19 239.42 L476.61 239.77 L478.55 239.87 L479.83 239.85 L480.30 240.00" fill="none" stroke="#008080" stroke-width="2.45" stroke-linejoin="round" stroke-linecap="round"/>
<path d="M337.10 239.60 L337.33 239.87 L337.97 239.45 L338.93 239.67 L340.15 239.27 L341.54 239.15 L343.03 239.50 L344.55 239.16 L346.02 238.84 L347.36 238.89 L348.50 238.77 L349.33 238.80 L350.15 238.38 L350.97 238.32 L351.77 238.56 L352.55 238.32 L353.30 237.90 L354.02 237.81 L354.70 237.60 L355.33 237.47 L355.90 237.14 L356.32 236.92 L356.70 236.60 L357.06 236.18 L357.39 235.87 L357.70 235.50 L357.99 235.11 L358.27 234.66 L358.52 234.33 L358.77 233.92 L359.00 233.57 L359.19 233.11 L359.37 232.91 L359.53 232.46 L359.67 232.25 L359.81 231.90 L359.93 231.56 L360.05 231.25 L360.17 230.84 L360.28 230.42 L360.40 230.02 L360.59 229.25 L360.76 228.37 L360.91 227.44 L361.05 226.46 L361.19 225.44 L361.31 224.39 L361.43 223.28 L361.56 222.19 L361.68 221.10 L361.80 220.00 L361.95 218.70 L362.09 217.41 L362.22 216.08 L362.35 214.71 L362.48 213.32 L362.61 211.91 L362.73 210.48 L362.86 209.01 L362.98 207.53 L363.10 206.00 L363.25 204.04 L363.40 202.03 L363.54 199.90 L363.69 197.75 L363.83 195.55 L363.97 193.36 L364.10 191.17 L364.24 189.04 L364.37 186.99 L364.50 184.99 L364.61 183.40 L364.72 181.88 L364.82 180.38 L364.93 178.93 L365.03 177.49 L365.13 176.04 L365.23 174.59 L365.32 173.10 L365.41 171.58 L365.50 170.00 L365.59 168.08 L365.68 166.07 L365.76 164.00 L365.84 161.88 L365.91 159.76 L365.98 157.65 L366.06 155.59 L366.13 153.60 L366.21 151.73 L366.30 150.00 L366.36 148.84 L366.43 147.71 L366.49 146.61 L366.55 145.54 L366.61 144.50 L366.68 143.51 L366.75 142.56 L366.83 141.67 L366.91 140.79 L367.00 140.00 L367.06 139.53 L367.12 139.04 L367.19 138.61 L367.25 138.23 L367.32 137.82 L367.39 137.41 L367.46 137.01 L367.54 136.71 L367.62 136.35 L367.70 136.03 L367.76 135.79 L367.83 135.52 L367.90 135.21 L367.97 134.92 L368.04 134.68 L368.11 134.48 L368.18 134.28 L368.26 134.08 L368.33 133.95 L368.40 134.08 L368.47 134.06 L368.54 134.11 L368.61 134.35 L368.68 134.49 L368.76 134.66 L368.83 134.95 L368.90 135.25 L368.97 135.47 L369.03 135.77 L369.10 135.95 L369.19 136.31 L369.28 136.70 L369.36 137.02 L369.45 137.39 L369.53 137.73 L369.61 138.14 L369.69 138.57 L369.76 139.00 L369.83 139.50 L369.90 140.00 L370.02 141.13 L370.12 142.39 L370.20 143.79 L370.28 145.30 L370.34 146.89 L370.40 148.54 L370.45 150.19 L370.50 151.84 L370.55 153.45 L370.60 155.00 L370.64 156.50 L370.67 157.98 L370.68 159.46 L370.69 160.93 L370.70 162.42 L370.71 163.91 L370.73 165.40 L370.76 166.92 L370.82 168.44 L370.90 169.99 L371.01 171.75 L371.14 173.57 L371.29 175.46 L371.45 177.34 L371.63 179.23 L371.82 181.11 L372.03 182.94 L372.24 184.70 L372.47 186.43 L372.70 188.00 L372.88 189.15 L373.06 190.21 L373.25 191.27 L373.45 192.26 L373.65 193.23 L373.86 194.26 L374.08 195.21 L374.31 196.11 L374.55 197.10 L374.80 198.03 L375.04 198.84 L375.27 199.70 L375.51 200.55 L375.75 201.32 L376.01 202.17 L376.28 202.89 L376.57 203.71 L376.88 204.56 L377.22 205.32 L377.60 206.17 L378.11 207.29 L378.67 208.29 L379.28 209.40 L379.93 210.38 L380.61 211.45 L381.30 212.57 L381.99 213.64 L382.68 214.88 L383.35 215.86 L384.00 217.01 L384.62 218.10 L385.20 219.37 L385.77 220.58 L386.33 221.83 L386.89 223.03 L387.47 224.24 L388.09 225.52 L388.76 226.54 L389.49 227.53 L390.30 228.43 L391.13 229.20 L392.04 229.88 L393.01 230.46 L394.02 231.25 L395.06 231.69 L396.10 232.12 L397.14 232.78 L398.15 232.99 L399.11 233.45 L400.00 234.03 L400.60 233.99 L401.17 234.32 L401.71 234.65 L402.24 234.79 L402.76 234.65 L403.29 234.87 L403.83 235.16 L404.39 235.14 L404.97 235.53 L405.60 235.38 L406.53 235.96 L407.53 236.09 L408.59 236.33 L409.69 236.78 L410.81 237.00 L411.93 237.57 L413.04 237.67 L414.11 238.19 L415.14 238.19 L416.10 238.12 L416.82 238.04 L417.53 238.23 L418.23 237.97 L418.91 238.23 L419.58 237.76 L420.22 237.78 L420.84 237.57 L421.43 237.20 L421.98 237.01 L422.50 236.47 L423.16 235.73 L423.72 234.69 L424.21 233.45 L424.64 232.11 L425.02 230.65 L425.36 229.19 L425.69 227.76 L426.01 226.30 L426.34 225.00 L426.70 223.76 L426.98 222.98 L427.24 222.17 L427.48 221.42 L427.72 220.65 L427.96 219.89 L428.20 219.21 L428.45 218.49 L428.71 217.77 L428.99 217.14 L429.30 216.37 L429.64 215.61 L430.00 214.81 L430.38 213.87 L430.78 212.96 L431.19 212.07 L431.60 211.14 L432.00 210.45 L432.39 209.84 L432.76 209.66 L433.10 209.58 L433.46 209.69 L433.78 210.28 L434.07 211.14 L434.34 212.19 L434.61 213.36 L434.88 214.71 L435.16 216.00 L435.47 217.33 L435.81 218.50 L436.20 219.55 L436.63 220.65 L437.07 221.63 L437.53 222.63 L438.00 223.53 L438.51 224.52 L439.04 225.50 L439.60 226.44 L440.19 227.37 L440.83 228.25 L441.50 229.00 L442.21 229.84 L442.98 230.67 L443.78 231.29 L444.63 232.17 L445.49 232.77 L446.38 233.46 L447.29 233.91 L448.19 234.52 L449.10 235.11 L450.00 235.45 L450.79 235.67 L451.57 236.28 L452.34 236.52 L453.11 236.53 L453.90 236.60 L454.71 237.14 L455.56 237.18 L456.45 237.06 L457.39 237.31 L458.40 237.41 L460.36 238.04 L462.81 238.04 L465.58 238.69 L468.50 238.88 L471.43 238.79 L474.18 239.34 L476.61 239.37 L478.55 239.71 L479.83 239.84 L480.30 239.70" fill="none" stroke="#0000f5" stroke-width="2.45" stroke-linejoin="round" stroke-linecap="round"/>
<path d="M337.10 240.30 L337.48 240.07 L338.52 239.88 L340.09 240.82 L342.07 240.28 L344.31 240.85 L346.69 240.61 L349.09 240.68 L351.35 240.78 L353.37 240.56 L355.00 240.35 L355.89 239.92 L356.76 240.44 L357.60 240.06 L358.42 240.00 L359.20 240.25 L359.94 239.41 L360.62 240.01 L361.25 239.33 L361.81 240.02 L362.30 240.28 L362.64 240.27 L362.91 240.72 L363.13 241.22 L363.31 241.56 L363.46 242.01 L363.59 242.47 L363.71 242.97 L363.83 243.56 L363.95 244.13 L364.10 244.65 L364.32 245.54 L364.53 246.46 L364.73 247.55 L364.92 248.61 L365.10 249.65 L365.28 250.76 L365.45 251.89 L365.63 252.97 L365.81 254.07 L366.00 254.98 L366.17 255.85 L366.33 256.88 L366.49 257.80 L366.65 258.85 L366.81 259.79 L366.98 260.74 L367.15 261.47 L367.32 262.12 L367.51 262.34 L367.70 262.77 L367.89 262.52 L368.09 262.12 L368.29 261.65 L368.50 260.98 L368.72 260.07 L368.94 259.24 L369.15 258.38 L369.37 257.48 L369.59 256.64 L369.80 255.96 L370.00 255.29 L370.20 254.72 L370.38 254.02 L370.57 253.30 L370.76 252.68 L370.96 252.05 L371.16 251.38 L371.39 250.69 L371.63 250.03 L371.90 249.37 L372.21 249.00 L372.55 248.28 L372.91 247.43 L373.30 246.97 L373.69 246.41 L374.09 245.65 L374.47 244.91 L374.84 244.47 L375.19 243.94 L375.50 243.40 L375.66 243.26 L375.81 242.85 L375.95 242.91 L376.08 242.61 L376.20 242.41 L376.34 242.33 L376.48 242.05 L376.63 241.71 L376.80 241.53 L377.00 241.31 L377.26 241.05 L377.55 241.38 L377.86 241.32 L378.19 240.82 L378.53 240.63 L378.88 240.90 L379.25 240.99 L379.63 240.96 L380.01 240.26 L380.40 240.61 L380.93 240.46 L381.46 240.19 L382.02 239.68 L382.59 239.36 L383.18 239.59 L383.79 239.01 L384.42 238.84 L385.09 238.80 L385.78 238.50 L386.50 238.81 L387.61 238.14 L388.79 237.87 L390.04 238.47 L391.34 238.61 L392.69 238.90 L394.09 238.91 L395.53 239.24 L396.99 239.42 L398.49 239.10 L400.00 239.20 L402.11 238.99 L404.45 239.31 L406.95 239.79 L409.54 239.50 L412.13 240.30 L414.65 239.95 L417.02 240.35 L419.17 240.98 L421.02 240.02 L422.50 239.87 L422.98 240.17 L423.41 239.88 L423.80 240.21 L424.14 239.56 L424.47 240.04 L424.77 239.91 L425.07 239.71 L425.36 239.33 L425.67 239.07 L426.00 239.09 L426.40 238.72 L426.80 238.32 L427.19 237.87 L427.58 237.47 L427.96 237.12 L428.35 236.76 L428.74 236.41 L429.12 235.72 L429.51 235.52 L429.90 235.45 L430.21 235.53 L430.51 235.34 L430.81 235.30 L431.12 235.35 L431.42 235.65 L431.73 235.89 L432.04 236.36 L432.35 236.48 L432.67 236.61 L433.00 236.83 L433.39 236.97 L433.78 236.89 L434.16 237.19 L434.55 236.89 L434.95 237.47 L435.37 237.62 L435.80 237.58 L436.27 237.95 L436.77 238.40 L437.30 238.18 L438.26 238.54 L439.31 238.42 L440.43 238.63 L441.62 239.28 L442.87 238.59 L444.19 238.85 L445.57 239.44 L447.00 239.30 L448.48 239.00 L450.00 239.67 L452.77 239.44 L456.19 239.68 L460.04 239.48 L464.09 239.54 L468.12 239.50 L471.91 239.23 L475.25 238.85 L477.90 238.84 L479.66 239.53 L480.30 239.10" fill="none" stroke="#f00000" stroke-width="2.60" stroke-linejoin="round" stroke-linecap="round"/>
</g>
<g clip-path="url(#cp3)">
<path d="M493.90 239.00 L494.32 239.03 L495.45 238.77 L497.16 239.20 L499.28 238.80 L501.66 238.63 L504.15 238.75 L506.59 238.41 L508.83 238.28 L510.72 237.96 L512.10 237.39 L512.63 237.26 L513.11 236.85 L513.53 236.69 L513.91 236.40 L514.26 235.96 L514.57 235.69 L514.87 235.25 L515.15 234.91 L515.42 234.54 L515.70 234.01 L516.09 233.23 L516.43 232.34 L516.72 231.31 L516.97 230.34 L517.20 229.22 L517.40 228.03 L517.59 226.89 L517.76 225.65 L517.93 224.41 L518.10 223.22 L518.30 221.53 L518.46 219.70 L518.59 217.73 L518.69 215.73 L518.78 213.68 L518.86 211.69 L518.94 209.77 L519.04 207.97 L519.15 206.38 L519.30 204.99 L519.39 204.37 L519.49 203.86 L519.59 203.37 L519.69 202.97 L519.80 202.52 L519.91 202.12 L520.01 201.66 L520.11 201.20 L520.21 200.65 L520.30 199.98 L520.46 198.57 L520.61 196.92 L520.75 195.12 L520.87 193.16 L520.99 191.10 L521.09 188.93 L521.20 186.72 L521.30 184.48 L521.40 182.23 L521.50 180.00 L521.62 177.23 L521.73 174.35 L521.82 171.36 L521.92 168.31 L522.00 165.21 L522.09 162.09 L522.18 158.99 L522.28 155.92 L522.38 152.91 L522.50 150.00 L522.61 147.37 L522.72 144.72 L522.82 142.06 L522.93 139.41 L523.05 136.81 L523.17 134.26 L523.30 131.80 L523.45 129.40 L523.62 127.14 L523.80 124.99 L523.94 123.47 L524.10 121.82 L524.26 120.13 L524.43 118.50 L524.61 116.92 L524.79 115.50 L524.97 114.29 L525.15 113.37 L525.33 112.65 L525.50 112.41 L525.67 112.67 L525.85 113.33 L526.03 114.30 L526.21 115.51 L526.39 116.89 L526.57 118.47 L526.74 120.15 L526.90 121.83 L527.06 123.46 L527.20 125.00 L527.38 127.13 L527.55 129.43 L527.69 131.82 L527.82 134.32 L527.95 136.87 L528.06 139.48 L528.17 142.12 L528.28 144.77 L528.39 147.41 L528.50 150.00 L528.62 152.77 L528.72 155.63 L528.82 158.56 L528.92 161.50 L529.01 164.45 L529.11 167.35 L529.21 170.19 L529.32 172.92 L529.45 175.55 L529.60 178.00 L529.72 179.69 L529.83 181.35 L529.96 182.96 L530.08 184.47 L530.21 185.97 L530.35 187.45 L530.50 188.87 L530.66 190.26 L530.82 191.65 L531.00 192.99 L531.15 194.10 L531.28 195.16 L531.42 196.23 L531.56 197.26 L531.71 198.22 L531.88 199.24 L532.07 200.22 L532.28 201.18 L532.52 202.11 L532.80 203.01 L533.09 203.83 L533.40 204.59 L533.74 205.34 L534.10 206.17 L534.48 206.93 L534.87 207.68 L535.27 208.36 L535.68 209.02 L536.09 209.82 L536.50 210.54 L536.91 211.22 L537.32 211.95 L537.73 212.61 L538.16 213.34 L538.59 214.01 L539.03 214.64 L539.49 215.38 L539.97 216.07 L540.47 216.90 L541.00 217.50 L541.64 218.28 L542.31 219.07 L543.02 219.88 L543.75 220.73 L544.50 221.50 L545.27 222.28 L546.04 223.29 L546.80 223.98 L547.56 224.74 L548.30 225.52 L548.96 226.12 L549.60 226.75 L550.23 227.38 L550.85 228.08 L551.49 228.71 L552.13 229.43 L552.80 229.98 L553.49 230.66 L554.22 231.04 L555.00 231.73 L555.92 232.17 L556.90 232.53 L557.91 233.05 L558.96 233.66 L560.04 234.26 L561.14 234.43 L562.25 234.97 L563.37 235.18 L564.49 235.68 L565.60 235.61 L566.76 236.06 L567.99 236.52 L569.26 236.49 L570.56 236.71 L571.84 236.77 L573.09 236.97 L574.28 237.07 L575.37 237.29 L576.36 236.92 L577.20 236.76 L577.67 236.47 L578.10 236.32 L578.48 236.07 L578.82 235.65 L579.13 235.17 L579.43 234.86 L579.70 234.46 L579.97 233.95 L580.23 233.40 L580.50 233.05 L580.82 232.46 L581.10 231.74 L581.36 231.03 L581.61 230.32 L581.84 229.63 L582.06 228.92 L582.28 228.15 L582.51 227.45 L582.75 226.65 L583.00 225.98 L583.25 225.40 L583.50 224.75 L583.75 224.08 L584.00 223.48 L584.25 222.81 L584.51 222.16 L584.77 221.61 L585.04 220.99 L585.32 220.53 L585.60 219.97 L585.83 219.62 L586.05 219.25 L586.29 218.82 L586.52 218.50 L586.76 218.07 L587.00 217.93 L587.25 217.55 L587.50 217.38 L587.75 216.90 L588.00 216.83 L588.19 216.72 L588.37 216.47 L588.57 216.27 L588.76 216.17 L588.96 216.06 L589.15 216.21 L589.35 215.87 L589.54 216.16 L589.72 215.94 L589.90 216.02 L590.08 216.08 L590.25 216.14 L590.42 216.28 L590.59 216.39 L590.75 216.48 L590.91 216.75 L591.08 216.83 L591.25 217.13 L591.42 217.34 L591.60 217.56 L591.91 217.86 L592.23 218.40 L592.54 218.95 L592.86 219.40 L593.20 219.95 L593.55 220.59 L593.92 221.28 L594.32 221.74 L594.74 222.32 L595.20 222.99 L595.86 223.82 L596.58 224.67 L597.35 225.42 L598.16 226.43 L599.00 227.10 L599.88 228.08 L600.79 228.73 L601.71 229.48 L602.65 230.23 L603.60 230.87 L604.55 231.60 L605.51 232.17 L606.47 232.55 L607.46 233.29 L608.48 233.52 L609.53 233.85 L610.62 234.26 L611.76 234.86 L612.95 235.31 L614.20 235.35 L616.30 235.80 L618.87 236.66 L621.74 236.89 L624.76 237.71 L627.76 237.89 L630.58 238.33 L633.05 238.49 L635.02 238.95 L636.33 238.93 L636.80 239.00" fill="none" stroke="#008080" stroke-width="2.45" stroke-linejoin="round" stroke-linecap="round"/>
<path d="M493.90 238.90 L494.01 238.80 L494.31 239.15 L494.77 238.71 L495.37 239.08 L496.06 238.71 L496.83 239.06 L497.64 238.91 L498.46 239.18 L499.25 238.69 L500.00 238.94 L501.08 238.78 L502.29 238.98 L503.58 238.91 L504.92 238.63 L506.28 238.29 L507.63 238.15 L508.92 237.97 L510.12 237.81 L511.19 237.44 L512.10 237.09 L512.59 237.05 L513.04 236.76 L513.46 236.40 L513.84 236.33 L514.19 235.82 L514.52 235.60 L514.83 235.17 L515.13 234.94 L515.42 234.52 L515.70 233.96 L516.10 233.25 L516.44 232.35 L516.75 231.31 L517.01 230.24 L517.24 229.12 L517.44 227.98 L517.63 226.74 L517.79 225.56 L517.95 224.37 L518.10 223.20 L518.24 221.91 L518.35 220.56 L518.42 219.14 L518.47 217.73 L518.50 216.30 L518.53 214.90 L518.55 213.55 L518.58 212.26 L518.63 211.08 L518.70 210.01 L518.75 209.40 L518.80 208.83 L518.85 208.31 L518.91 207.85 L518.96 207.33 L519.02 206.90 L519.09 206.40 L519.15 205.97 L519.22 205.47 L519.30 204.98 L519.39 204.53 L519.48 204.02 L519.58 203.59 L519.68 203.20 L519.79 202.73 L519.90 202.27 L520.01 201.78 L520.11 201.19 L520.21 200.62 L520.30 200.01 L520.46 198.54 L520.59 196.80 L520.71 194.89 L520.81 192.82 L520.91 190.65 L521.00 188.43 L521.10 186.20 L521.22 184.04 L521.35 181.94 L521.50 180.01 L521.65 178.38 L521.80 176.79 L521.95 175.19 L522.11 173.63 L522.28 172.08 L522.46 170.59 L522.65 169.09 L522.85 167.70 L523.07 166.31 L523.30 164.97 L523.49 163.96 L523.70 162.86 L523.92 161.75 L524.15 160.59 L524.38 159.50 L524.61 158.59 L524.85 157.75 L525.07 157.10 L525.29 156.60 L525.50 156.31 L525.70 156.61 L525.90 157.03 L526.10 157.69 L526.30 158.56 L526.49 159.53 L526.67 160.61 L526.85 161.73 L527.01 162.84 L527.16 163.98 L527.30 165.01 L527.45 166.33 L527.56 167.72 L527.65 169.19 L527.72 170.70 L527.77 172.23 L527.82 173.80 L527.87 175.36 L527.93 176.93 L528.00 178.48 L528.10 180.01 L528.21 181.51 L528.33 183.06 L528.45 184.62 L528.58 186.17 L528.72 187.75 L528.86 189.25 L529.01 190.78 L529.17 192.26 L529.33 193.64 L529.50 195.01 L529.63 196.01 L529.75 197.00 L529.87 197.96 L529.99 198.90 L530.12 199.86 L530.26 200.76 L530.43 201.65 L530.62 202.46 L530.84 203.37 L531.10 204.18 L531.38 204.99 L531.70 205.73 L532.04 206.43 L532.40 207.26 L532.79 207.81 L533.18 208.64 L533.59 209.35 L534.00 209.99 L534.40 210.71 L534.80 211.48 L535.20 212.10 L535.62 212.93 L536.05 213.74 L536.48 214.48 L536.92 215.31 L537.35 216.01 L537.78 216.75 L538.20 217.43 L538.61 218.03 L539.00 218.46 L539.21 218.77 L539.42 218.96 L539.61 219.05 L539.80 219.31 L539.99 219.36 L540.19 219.69 L540.39 219.72 L540.61 219.95 L540.84 220.08 L541.10 220.29 L541.65 220.74 L542.26 221.32 L542.93 222.18 L543.65 222.81 L544.41 223.56 L545.18 224.32 L545.97 225.14 L546.76 225.70 L547.54 226.33 L548.30 227.09 L548.95 227.44 L549.59 227.91 L550.23 228.36 L550.87 228.76 L551.51 229.10 L552.17 229.16 L552.84 229.60 L553.54 230.08 L554.25 230.39 L555.00 230.46 L555.95 230.86 L556.93 231.29 L557.96 231.61 L559.01 232.08 L560.08 232.63 L561.18 232.86 L562.28 233.15 L563.39 233.30 L564.50 233.71 L565.60 234.22 L566.76 234.34 L568.00 234.50 L569.27 234.78 L570.57 235.19 L571.85 235.39 L573.09 235.25 L574.28 235.63 L575.37 235.45 L576.36 235.44 L577.20 235.10 L577.67 234.94 L578.09 234.68 L578.48 234.39 L578.82 233.97 L579.14 233.65 L579.43 233.33 L579.71 232.81 L579.97 232.39 L580.23 232.01 L580.50 231.47 L580.84 230.79 L581.13 230.01 L581.40 229.24 L581.64 228.30 L581.86 227.44 L582.07 226.53 L582.29 225.56 L582.51 224.68 L582.74 223.85 L583.00 223.01 L583.24 222.29 L583.49 221.55 L583.74 220.91 L583.99 220.21 L584.25 219.59 L584.51 218.88 L584.77 218.26 L585.04 217.67 L585.32 217.11 L585.60 216.48 L585.83 216.05 L586.06 215.65 L586.29 215.29 L586.52 214.76 L586.76 214.51 L587.00 214.09 L587.25 213.67 L587.50 213.40 L587.75 213.03 L588.00 212.70 L588.19 212.68 L588.38 212.40 L588.57 212.26 L588.77 212.09 L588.96 212.05 L589.16 211.89 L589.35 211.53 L589.54 211.67 L589.72 211.57 L589.90 211.58 L590.09 211.78 L590.26 211.76 L590.43 211.94 L590.59 212.23 L590.75 212.37 L590.91 212.64 L591.07 212.93 L591.24 213.27 L591.42 213.54 L591.60 213.84 L591.91 214.28 L592.21 214.78 L592.52 215.48 L592.84 216.10 L593.18 216.80 L593.53 217.48 L593.90 218.08 L594.30 218.79 L594.73 219.45 L595.20 220.26 L595.86 221.00 L596.57 221.90 L597.33 222.98 L598.14 223.89 L598.99 224.73 L599.86 225.80 L600.77 226.72 L601.70 227.53 L602.64 228.23 L603.60 229.15 L604.54 229.75 L605.50 230.44 L606.46 231.17 L607.45 231.67 L608.46 232.23 L609.51 232.47 L610.60 233.01 L611.74 233.54 L612.94 233.78 L614.20 234.60 L616.29 234.88 L618.86 235.44 L621.73 236.00 L624.75 236.46 L627.75 237.21 L630.57 237.45 L633.05 237.75 L635.02 237.95 L636.33 237.92 L636.80 238.20" fill="none" stroke="#0000f5" stroke-width="2.45" stroke-linejoin="round" stroke-linecap="round"/>
<path d="M493.90 240.00 L494.11 239.79 L494.69 240.41 L495.58 240.35 L496.71 240.43 L498.02 239.79 L499.45 239.74 L500.92 239.58 L502.38 240.10 L503.76 239.90 L505.00 239.96 L506.30 239.95 L507.70 240.03 L509.16 239.78 L510.65 240.21 L512.12 239.54 L513.53 240.20 L514.83 239.72 L515.99 239.12 L516.96 239.15 L517.70 239.02 L517.94 238.79 L518.14 238.65 L518.30 238.33 L518.45 238.07 L518.57 237.97 L518.68 237.60 L518.78 237.52 L518.88 237.42 L518.99 237.27 L519.10 237.18 L519.37 237.62 L519.62 238.15 L519.83 239.21 L520.03 240.38 L520.20 241.87 L520.37 243.48 L520.53 245.12 L520.68 246.85 L520.84 248.44 L521.00 250.01 L521.21 251.97 L521.41 254.15 L521.59 256.37 L521.76 258.70 L521.93 261.04 L522.10 263.40 L522.27 265.71 L522.44 267.92 L522.61 270.02 L522.80 272.02 L522.94 273.43 L523.07 275.04 L523.21 276.60 L523.34 278.18 L523.48 279.68 L523.62 281.10 L523.77 282.30 L523.93 283.16 L524.11 283.82 L524.30 283.83 L524.45 284.07 L524.61 283.68 L524.77 283.12 L524.95 282.54 L525.12 281.98 L525.30 281.13 L525.48 280.45 L525.66 279.55 L525.83 278.74 L526.00 278.01 L526.26 276.71 L526.52 275.30 L526.78 273.70 L527.04 272.14 L527.29 270.40 L527.54 268.75 L527.79 267.02 L528.03 265.48 L528.27 264.01 L528.50 262.59 L528.66 261.67 L528.80 260.89 L528.94 260.12 L529.08 259.31 L529.22 258.61 L529.36 257.83 L529.51 257.16 L529.66 256.48 L529.82 255.72 L530.00 255.03 L530.18 254.22 L530.37 253.62 L530.57 252.77 L530.78 252.19 L530.99 251.49 L531.21 250.79 L531.43 250.02 L531.65 249.31 L531.87 248.68 L532.10 248.16 L532.28 247.64 L532.45 247.29 L532.62 246.66 L532.80 246.33 L532.98 246.01 L533.16 245.55 L533.35 245.14 L533.56 244.62 L533.77 244.26 L534.00 243.93 L534.22 243.78 L534.44 243.42 L534.67 242.87 L534.90 242.78 L535.14 242.13 L535.40 242.04 L535.68 241.90 L535.99 241.34 L536.32 241.38 L536.70 240.99 L537.32 240.28 L538.01 240.16 L538.78 239.98 L539.60 239.59 L540.47 239.79 L541.37 239.13 L542.28 239.53 L543.20 238.96 L544.11 238.64 L545.00 239.06 L545.94 238.54 L546.88 239.07 L547.81 239.38 L548.75 239.32 L549.70 239.34 L550.68 239.13 L551.69 239.72 L552.74 239.49 L553.84 240.14 L555.00 239.74 L556.86 240.31 L558.96 240.23 L561.23 240.41 L563.60 240.85 L566.00 240.46 L568.36 240.56 L570.63 241.43 L572.71 240.76 L574.56 241.20 L576.10 241.05 L576.74 240.57 L577.31 240.18 L577.83 240.01 L578.31 240.43 L578.77 239.72 L579.20 239.80 L579.63 239.64 L580.06 239.17 L580.52 239.19 L581.00 238.78 L581.57 238.77 L582.15 238.46 L582.74 238.06 L583.33 237.63 L583.92 237.42 L584.51 236.97 L585.09 236.61 L585.65 236.39 L586.19 236.55 L586.70 236.10 L587.04 236.26 L587.36 235.51 L587.66 236.09 L587.95 235.66 L588.23 235.83 L588.53 235.59 L588.83 235.64 L589.16 235.17 L589.51 235.67 L589.90 235.03 L590.69 235.21 L591.58 235.13 L592.55 235.64 L593.59 235.97 L594.68 236.04 L595.78 236.80 L596.89 236.43 L597.97 237.10 L599.02 237.07 L600.00 237.58 L600.80 237.90 L601.54 238.00 L602.25 237.64 L602.95 237.94 L603.65 238.39 L604.36 238.87 L605.12 238.21 L605.93 238.85 L606.82 239.05 L607.80 239.30 L610.21 239.06 L613.34 239.72 L616.96 239.53 L620.85 240.15 L624.76 239.32 L628.48 240.40 L631.77 239.91 L634.41 239.96 L636.16 239.65 L636.80 240.10" fill="none" stroke="#3c3c3c" stroke-width="2.60" stroke-linejoin="round" stroke-linecap="round"/>
</g>
<path d="M27.55 76.90V80.50 M27.55 292.00V288.40 M32.50 76.90V84.10 M32.50 292.00V284.80 M37.45 76.90V80.50 M37.45 292.00V288.40 M42.39 76.90V80.50 M42.39 292.00V288.40 M47.34 76.90V80.50 M47.34 292.00V288.40 M52.28 76.90V80.50 M52.28 292.00V288.40 M57.23 76.90V84.10 M57.23 292.00V284.80 M62.17 76.90V80.50 M62.17 292.00V288.40 M67.12 76.90V80.50 M67.12 292.00V288.40 M72.06 76.90V80.50 M72.06 292.00V288.40 M77.00 76.90V80.50 M77.00 292.00V288.40 M81.95 76.90V84.10 M81.95 292.00V284.80 M86.90 76.90V80.50 M86.90 292.00V288.40 M91.84 76.90V80.50 M91.84 292.00V288.40 M96.78 76.90V80.50 M96.78 292.00V288.40 M101.73 76.90V80.50 M101.73 292.00V288.40 M106.68 76.90V84.10 M106.68 292.00V284.80 M111.62 76.90V80.50 M111.62 292.00V288.40 M116.56 76.90V80.50 M116.56 292.00V288.40 M121.51 76.90V80.50 M121.51 292.00V288.40 M126.46 76.90V80.50 M126.46 292.00V288.40 M131.40 76.90V84.10 M131.40 292.00V284.80 M136.34 76.90V80.50 M136.34 292.00V288.40 M141.29 76.90V80.50 M141.29 292.00V288.40 M146.24 76.90V80.50 M146.24 292.00V288.40 M151.18 76.90V80.50 M151.18 292.00V288.40 M156.12 76.90V84.10 M156.12 292.00V284.80 M161.07 76.90V80.50 M161.07 292.00V288.40 M22.60 86.20H25.80 M165.80 86.20H162.60 M22.60 98.04H25.80 M165.80 98.04H162.60 M22.60 109.88H25.80 M165.80 109.88H162.60 M22.60 121.72H29.80 M165.80 121.72H158.60 M22.60 133.56H25.80 M165.80 133.56H162.60 M22.60 145.40H25.80 M165.80 145.40H162.60 M22.60 157.24H25.80 M165.80 157.24H162.60 M22.60 169.08H25.80 M165.80 169.08H162.60 M22.60 180.92H25.80 M165.80 180.92H162.60 M22.60 192.76H25.80 M165.80 192.76H162.60 M22.60 204.60H25.80 M165.80 204.60H162.60 M22.60 216.44H25.80 M165.80 216.44H162.60 M22.60 228.28H25.80 M165.80 228.28H162.60 M22.60 240.12H25.80 M165.80 240.12H162.60 M22.60 251.96H25.80 M165.80 251.96H162.60 M22.60 263.80H25.80 M165.80 263.80H162.60 M22.60 275.64H25.80 M165.80 275.64H162.60 M22.60 287.48H25.80 M165.80 287.48H162.60" stroke="#000" stroke-width="1.4" fill="none"/>
<rect x="22.60" y="76.90" width="143.20" height="215.10" fill="none" stroke="#000" stroke-width="1.6"/>
<text x="32.50" y="308.6" class="tl" text-anchor="middle">705</text>
<text x="57.23" y="308.6" class="tl" text-anchor="middle">710</text>
<text x="81.95" y="308.6" class="tl" text-anchor="middle">715</text>
<text x="106.68" y="308.6" class="tl" text-anchor="middle">720</text>
<text x="131.40" y="308.6" class="tl" text-anchor="middle">725</text>
<text x="156.12" y="308.6" class="tl" text-anchor="middle">730</text>
<text x="90.30" y="327.8" class="xl" text-anchor="middle">E (eV)</text>
<path d="M184.96 76.90V80.50 M184.96 292.00V288.40 M189.90 76.90V84.10 M189.90 292.00V284.80 M194.84 76.90V80.50 M194.84 292.00V288.40 M199.79 76.90V80.50 M199.79 292.00V288.40 M204.74 76.90V80.50 M204.74 292.00V288.40 M209.68 76.90V80.50 M209.68 292.00V288.40 M214.62 76.90V84.10 M214.62 292.00V284.80 M219.57 76.90V80.50 M219.57 292.00V288.40 M224.52 76.90V80.50 M224.52 292.00V288.40 M229.46 76.90V80.50 M229.46 292.00V288.40 M234.41 76.90V80.50 M234.41 292.00V288.40 M239.35 76.90V84.10 M239.35 292.00V284.80 M244.30 76.90V80.50 M244.30 292.00V288.40 M249.24 76.90V80.50 M249.24 292.00V288.40 M254.19 76.90V80.50 M254.19 292.00V288.40 M259.13 76.90V80.50 M259.13 292.00V288.40 M264.08 76.90V84.10 M264.08 292.00V284.80 M269.02 76.90V80.50 M269.02 292.00V288.40 M273.97 76.90V80.50 M273.97 292.00V288.40 M278.91 76.90V80.50 M278.91 292.00V288.40 M283.86 76.90V80.50 M283.86 292.00V288.40 M288.80 76.90V84.10 M288.80 292.00V284.80 M293.75 76.90V80.50 M293.75 292.00V288.40 M298.69 76.90V80.50 M298.69 292.00V288.40 M303.63 76.90V80.50 M303.63 292.00V288.40 M308.58 76.90V80.50 M308.58 292.00V288.40 M313.52 76.90V84.10 M313.52 292.00V284.80 M318.47 76.90V80.50 M318.47 292.00V288.40 M180.00 86.20H183.20 M323.20 86.20H320.00 M180.00 98.04H183.20 M323.20 98.04H320.00 M180.00 109.88H183.20 M323.20 109.88H320.00 M180.00 121.72H187.20 M323.20 121.72H316.00 M180.00 133.56H183.20 M323.20 133.56H320.00 M180.00 145.40H183.20 M323.20 145.40H320.00 M180.00 157.24H183.20 M323.20 157.24H320.00 M180.00 169.08H183.20 M323.20 169.08H320.00 M180.00 180.92H183.20 M323.20 180.92H320.00 M180.00 192.76H183.20 M323.20 192.76H320.00 M180.00 204.60H183.20 M323.20 204.60H320.00 M180.00 216.44H183.20 M323.20 216.44H320.00 M180.00 228.28H183.20 M323.20 228.28H320.00 M180.00 240.12H183.20 M323.20 240.12H320.00 M180.00 251.96H183.20 M323.20 251.96H320.00 M180.00 263.80H183.20 M323.20 263.80H320.00 M180.00 275.64H183.20 M323.20 275.64H320.00 M180.00 287.48H183.20 M323.20 287.48H320.00" stroke="#000" stroke-width="1.4" fill="none"/>
<rect x="180.00" y="76.90" width="143.20" height="215.10" fill="none" stroke="#000" stroke-width="1.6"/>
<text x="189.90" y="308.6" class="tl" text-anchor="middle">705</text>
<text x="214.62" y="308.6" class="tl" text-anchor="middle">710</text>
<text x="239.35" y="308.6" class="tl" text-anchor="middle">715</text>
<text x="264.08" y="308.6" class="tl" text-anchor="middle">720</text>
<text x="288.80" y="308.6" class="tl" text-anchor="middle">725</text>
<text x="313.52" y="308.6" class="tl" text-anchor="middle">730</text>
<text x="251.60" y="327.8" class="xl" text-anchor="middle">E (eV)</text>
<path d="M342.06 76.90V80.50 M342.06 292.00V288.40 M347.00 76.90V84.10 M347.00 292.00V284.80 M351.94 76.90V80.50 M351.94 292.00V288.40 M356.89 76.90V80.50 M356.89 292.00V288.40 M361.83 76.90V80.50 M361.83 292.00V288.40 M366.78 76.90V80.50 M366.78 292.00V288.40 M371.73 76.90V84.10 M371.73 292.00V284.80 M376.67 76.90V80.50 M376.67 292.00V288.40 M381.62 76.90V80.50 M381.62 292.00V288.40 M386.56 76.90V80.50 M386.56 292.00V288.40 M391.50 76.90V80.50 M391.50 292.00V288.40 M396.45 76.90V84.10 M396.45 292.00V284.80 M401.39 76.90V80.50 M401.39 292.00V288.40 M406.34 76.90V80.50 M406.34 292.00V288.40 M411.28 76.90V80.50 M411.28 292.00V288.40 M416.23 76.90V80.50 M416.23 292.00V288.40 M421.18 76.90V84.10 M421.18 292.00V284.80 M426.12 76.90V80.50 M426.12 292.00V288.40 M431.06 76.90V80.50 M431.06 292.00V288.40 M436.01 76.90V80.50 M436.01 292.00V288.40 M440.96 76.90V80.50 M440.96 292.00V288.40 M445.90 76.90V84.10 M445.90 292.00V284.80 M450.85 76.90V80.50 M450.85 292.00V288.40 M455.79 76.90V80.50 M455.79 292.00V288.40 M460.74 76.90V80.50 M460.74 292.00V288.40 M465.68 76.90V80.50 M465.68 292.00V288.40 M470.62 76.90V84.10 M470.62 292.00V284.80 M475.57 76.90V80.50 M475.57 292.00V288.40 M337.10 86.20H340.30 M480.30 86.20H477.10 M337.10 98.04H340.30 M480.30 98.04H477.10 M337.10 109.88H340.30 M480.30 109.88H477.10 M337.10 121.72H344.30 M480.30 121.72H473.10 M337.10 133.56H340.30 M480.30 133.56H477.10 M337.10 145.40H340.30 M480.30 145.40H477.10 M337.10 157.24H340.30 M480.30 157.24H477.10 M337.10 169.08H340.30 M480.30 169.08H477.10 M337.10 180.92H340.30 M480.30 180.92H477.10 M337.10 192.76H340.30 M480.30 192.76H477.10 M337.10 204.60H340.30 M480.30 204.60H477.10 M337.10 216.44H340.30 M480.30 216.44H477.10 M337.10 228.28H340.30 M480.30 228.28H477.10 M337.10 240.12H340.30 M480.30 240.12H477.10 M337.10 251.96H340.30 M480.30 251.96H477.10 M337.10 263.80H340.30 M480.30 263.80H477.10 M337.10 275.64H340.30 M480.30 275.64H477.10 M337.10 287.48H340.30 M480.30 287.48H477.10" stroke="#000" stroke-width="1.4" fill="none"/>
<rect x="337.10" y="76.90" width="143.20" height="215.10" fill="none" stroke="#000" stroke-width="1.6"/>
<text x="347.00" y="308.6" class="tl" text-anchor="middle">705</text>
<text x="371.73" y="308.6" class="tl" text-anchor="middle">710</text>
<text x="396.45" y="308.6" class="tl" text-anchor="middle">715</text>
<text x="421.18" y="308.6" class="tl" text-anchor="middle">720</text>
<text x="445.90" y="308.6" class="tl" text-anchor="middle">725</text>
<text x="470.62" y="308.6" class="tl" text-anchor="middle">730</text>
<text x="408.70" y="325.3" class="xl" text-anchor="middle">E (eV)</text>
<path d="M498.85 76.90V80.50 M498.85 292.00V288.40 M503.80 76.90V84.10 M503.80 292.00V284.80 M508.74 76.90V80.50 M508.74 292.00V288.40 M513.69 76.90V80.50 M513.69 292.00V288.40 M518.63 76.90V80.50 M518.63 292.00V288.40 M523.58 76.90V80.50 M523.58 292.00V288.40 M528.52 76.90V84.10 M528.52 292.00V284.80 M533.47 76.90V80.50 M533.47 292.00V288.40 M538.41 76.90V80.50 M538.41 292.00V288.40 M543.36 76.90V80.50 M543.36 292.00V288.40 M548.30 76.90V80.50 M548.30 292.00V288.40 M553.25 76.90V84.10 M553.25 292.00V284.80 M558.19 76.90V80.50 M558.19 292.00V288.40 M563.14 76.90V80.50 M563.14 292.00V288.40 M568.08 76.90V80.50 M568.08 292.00V288.40 M573.03 76.90V80.50 M573.03 292.00V288.40 M577.97 76.90V84.10 M577.97 292.00V284.80 M582.92 76.90V80.50 M582.92 292.00V288.40 M587.87 76.90V80.50 M587.87 292.00V288.40 M592.81 76.90V80.50 M592.81 292.00V288.40 M597.75 76.90V80.50 M597.75 292.00V288.40 M602.70 76.90V84.10 M602.70 292.00V284.80 M607.64 76.90V80.50 M607.64 292.00V288.40 M612.59 76.90V80.50 M612.59 292.00V288.40 M617.53 76.90V80.50 M617.53 292.00V288.40 M622.48 76.90V80.50 M622.48 292.00V288.40 M627.42 76.90V84.10 M627.42 292.00V284.80 M632.37 76.90V80.50 M632.37 292.00V288.40 M493.90 86.20H497.10 M637.10 86.20H633.90 M493.90 98.04H497.10 M637.10 98.04H633.90 M493.90 109.88H497.10 M637.10 109.88H633.90 M493.90 121.72H501.10 M637.10 121.72H629.90 M493.90 133.56H497.10 M637.10 133.56H633.90 M493.90 145.40H497.10 M637.10 145.40H633.90 M493.90 157.24H497.10 M637.10 157.24H633.90 M493.90 169.08H497.10 M637.10 169.08H633.90 M493.90 180.92H497.10 M637.10 180.92H633.90 M493.90 192.76H497.10 M637.10 192.76H633.90 M493.90 204.60H497.10 M637.10 204.60H633.90 M493.90 216.44H497.10 M637.10 216.44H633.90 M493.90 228.28H497.10 M637.10 228.28H633.90 M493.90 240.12H497.10 M637.10 240.12H633.90 M493.90 251.96H497.10 M637.10 251.96H633.90 M493.90 263.80H497.10 M637.10 263.80H633.90 M493.90 275.64H497.10 M637.10 275.64H633.90 M493.90 287.48H497.10 M637.10 287.48H633.90" stroke="#000" stroke-width="1.4" fill="none"/>
<rect x="493.90" y="76.90" width="143.20" height="215.10" fill="none" stroke="#000" stroke-width="1.6"/>
<text x="503.80" y="308.6" class="tl" text-anchor="middle">705</text>
<text x="528.52" y="308.6" class="tl" text-anchor="middle">710</text>
<text x="553.25" y="308.6" class="tl" text-anchor="middle">715</text>
<text x="577.97" y="308.6" class="tl" text-anchor="middle">720</text>
<text x="602.70" y="308.6" class="tl" text-anchor="middle">725</text>
<text x="627.42" y="308.6" class="tl" text-anchor="middle">730</text>
<text x="565.50" y="325.3" class="xl" text-anchor="middle">E (eV)</text>
<text x="30.60" y="101.6" class="pl">b)</text>
<text x="188.00" y="101.6" class="pl">c)</text>
<text x="345.10" y="101.6" class="pl">d)</text>
<text x="501.90" y="101.6" class="pl">e)</text>
<text x="152.40" y="102.2" class="pl" text-anchor="end" style="fill:#f00000">90°</text>
<text x="109.00" y="102.6" class="phi" style="fill:#f00000;stroke:#f00000;stroke-width:0.45">&#x3D5;</text>
<text x="120.00" y="104.0" class="eq" style="fill:#f00000">=</text>
<text x="311.00" y="102.2" class="pl" text-anchor="end" style="fill:#3a3a3a">20°</text>
<text x="266.10" y="102.6" class="phi" style="fill:#3a3a3a;stroke:#3a3a3a;stroke-width:0.45">&#x3D5;</text>
<text x="277.10" y="104.0" class="eq" style="fill:#3a3a3a">=</text>
<text x="467.40" y="102.2" class="pl" text-anchor="end" style="fill:#f00000">90°</text>
<text x="423.20" y="102.6" class="phi" style="fill:#f00000;stroke:#f00000;stroke-width:0.45">&#x3D5;</text>
<text x="434.20" y="104.0" class="eq" style="fill:#f00000">=</text>
<text x="625.00" y="102.2" class="pl" text-anchor="end" style="fill:#3a3a3a">20°</text>
<text x="580.10" y="102.6" class="phi" style="fill:#3a3a3a;stroke:#3a3a3a;stroke-width:0.45">&#x3D5;</text>
<text x="591.10" y="104.0" class="eq" style="fill:#3a3a3a">=</text>
<path d="M86.40 270.5H119.50" stroke="#f00000" stroke-width="2.4"/>
<text x="126.60" y="276.0" class="mu"><tspan class="mg">μ</tspan><tspan class="sup" dx="0.3" dy="-6">+</tspan><tspan style="font-weight:bold" dy="6">-</tspan><tspan class="mg">μ</tspan><tspan class="sup" dx="0.3" dy="-7">−</tspan></text>
<path d="M243.80 270.5H276.90" stroke="#3c3c3c" stroke-width="2.4"/>
<text x="284.00" y="276.0" class="mu"><tspan class="mg">μ</tspan><tspan class="sup" dx="0.3" dy="-6">+</tspan><tspan style="font-weight:bold" dy="6">-</tspan><tspan class="mg">μ</tspan><tspan class="sup" dx="0.3" dy="-7">−</tspan></text>
<path d="M243.90 120.1H277.50" stroke="#008080" stroke-width="2.2"/>
<path d="M243.90 140.3H277.50" stroke="#0000f5" stroke-width="2.2"/>
<text x="284.80" y="125.0" class="mu"><tspan class="mg">μ</tspan><tspan class="sup" dx="-0.3" dy="-6.5">−</tspan></text>
<text x="284.80" y="145.2" class="mu"><tspan class="mg">μ</tspan><tspan class="sup" dx="-0.3" dy="-6">+</tspan></text>
<path d="M400.90 270.5H434.00" stroke="#f00000" stroke-width="2.4"/>
<text x="441.10" y="276.0" class="mu"><tspan class="mg">μ</tspan><tspan class="sup" dx="0.3" dy="-6">+</tspan><tspan style="font-weight:bold" dy="6">-</tspan><tspan class="mg">μ</tspan><tspan class="sup" dx="0.3" dy="-7">−</tspan></text>
<path d="M557.70 270.5H590.80" stroke="#3c3c3c" stroke-width="2.4"/>
<text x="597.90" y="276.0" class="mu"><tspan class="mg">μ</tspan><tspan class="sup" dx="0.3" dy="-6">+</tspan><tspan style="font-weight:bold" dy="6">-</tspan><tspan class="mg">μ</tspan><tspan class="sup" dx="0.3" dy="-7">−</tspan></text>
<path d="M557.80 120.1H591.40" stroke="#008080" stroke-width="2.2"/>
<path d="M557.80 140.3H591.40" stroke="#0000f5" stroke-width="2.2"/>
<text x="598.70" y="125.0" class="mu"><tspan class="mg">μ</tspan><tspan class="sup" dx="-0.3" dy="-6.5">−</tspan></text>
<text x="598.70" y="145.2" class="mu"><tspan class="mg">μ</tspan><tspan class="sup" dx="-0.3" dy="-6">+</tspan></text>
<rect x="99.2" y="108.5" width="106.0" height="27.6" fill="#fff" stroke="#b8b8b8" stroke-width="1.0"/>
<text x="105.6" y="125.4" class="bx">Bi<tspan class="sub" dx="0.4" dy="4.7">1.98</tspan><tspan dy="-4.7">Fe</tspan><tspan class="sub" dx="0.8" dy="4.7">0.02</tspan><tspan dy="-4.7">Se</tspan><tspan class="sub" dx="0.8" dy="4.7">3</tspan></text>
<rect x="438.1" y="118.9" width="75.2" height="26.0" fill="#fff" stroke="#b8b8b8" stroke-width="1.0"/>
<text x="444.7" y="135.5" class="bx">Fe/Bi<tspan class="sub" dx="0.3" dy="4.5">2</tspan><tspan dy="-4.5">Se</tspan><tspan class="sub" dx="0.5" dy="4.5">3</tspan></text>
<text x="79" y="156.7" class="pl">a)</text>
<text transform="translate(10.3 246.4) rotate(-90)" class="yl" xml:space="preserve">Intensity  (arb. units)</text>
<text x="215.7" y="30.7" class="pl" style="font-size:14px">a)</text>
<text x="237.2" y="21.3" class="sr">X-rays</text>
<path d="M268.5 21.6 C268.6 16.5 273.3 16.8 273.4 26.4 C273.5 36.5 269.6 36.2 268.9 31.6" fill="none" stroke="#4a6af2" stroke-width="1.25"/>
<path d="M267.4 33.2 L268.4 29.6 L270.6 32.2 Z" fill="#3050f0"/>
<path d="M279.2 21.6 C279.5 16.5 283.5 16.8 283.4 26.4 C283.3 36.5 279.6 36.2 278.9 31.0" fill="none" stroke="#3aa2a6" stroke-width="1.25"/>
<path d="M278.0 19.6 L281.4 20.3 L278.8 23.2 Z" fill="#2a9090"/>
<text x="264.9" y="46.2" class="sr" style="font-size:10px;fill:#333">μ</text><path d="M270.6 39.3 H273.2" stroke="#555" stroke-width="0.9"/>
<text x="278.9" y="46.2" class="sr" style="font-size:10px;fill:#333">μ</text><path d="M284.2 39.3 H287" stroke="#555" stroke-width="0.9"/>
<path d="M331.5 2.9 L334.8 1.0 L369.8 12.4 L363.6 14.3 Z" fill="#d6d6d6" stroke="#3a3a3a" stroke-width="0.9" stroke-linejoin="round"/>
<path d="M363.6 14.3 L369.8 12.4 L370.4 48.8 L363.6 51.3 Z" fill="#cacaca" stroke="#3a3a3a" stroke-width="0.9" stroke-linejoin="round"/>
<path d="M331.5 2.9 L363.6 14.3 L363.6 51.3 L331.5 40.3 Z" fill="#b6b6b6" stroke="#3a3a3a" stroke-width="0.9" stroke-linejoin="round"/>
<path d="M347.2 3.6 V47.4" stroke="#333" stroke-width="1"/>
<path d="M331.5 20.4 L368.5 34.6" stroke="#333" stroke-width="1"/>
<path d="M369.2 34.9 L365.6 32.4 L365.0 35.1 Z" fill="#333"/>
<path d="M249.5 26.3H345.6" stroke="#333" stroke-width="1.3"/>
<path d="M326.4 17.9 L345.6 26.3" stroke="#333" stroke-width="1"/>
<path d="M345.6 26.3 L325.8 33.5" stroke="#333" stroke-width="1"/>
<path d="M324.6 33.9 L327.6 31.6 L328.2 34.0 Z" fill="#333"/>
<path d="M327.6 18.6 Q325.5 22.4 326.9 26.2" fill="none" stroke="#555" stroke-width="0.9"/>
<text x="319.9" y="22.6" style="font-family:'Liberation Serif',serif;font-size:11px;fill:#333;stroke:#333;stroke-width:0.25">&#x3D5;</text>
<path d="M369.5 40.5 H383.1 V49.1" fill="none" stroke="#444" stroke-width="0.9"/>
<circle cx="383.1" cy="54.6" r="5.5" fill="none" stroke="#333" stroke-width="1.1"/>
<path d="M374 59.2 L394 48.6" stroke="#333" stroke-width="0.9"/>
<path d="M395.2 48.0 L391.2 48.6 L392.6 51.1 Z" fill="#333"/>
<path d="M383.1 60.1 V63.2 M378.6 63.3 H387.6 M380.1 65.0 H386.1 M381.6 66.6 H384.6" stroke="#444" stroke-width="0.9"/>
<text x="388.2" y="45.4" class="sr" style="font-size:10px">TEY</text>
<path d="M318 60.4 H358" stroke="#222" stroke-width="1.2"/>
<path d="M365.2 60.4 L356.4 58.0 L356.4 62.8 Z" fill="#222"/>
<text x="333.7" y="58.5" class="sr" style="font-size:10px;font-style:italic">B</text>
<text x="416.3" y="29.2" class="pl">B = 5 T</text>
<text x="416.3" y="46.6" class="pl">T ~ 10 K</text>
</svg>
</body></html>
